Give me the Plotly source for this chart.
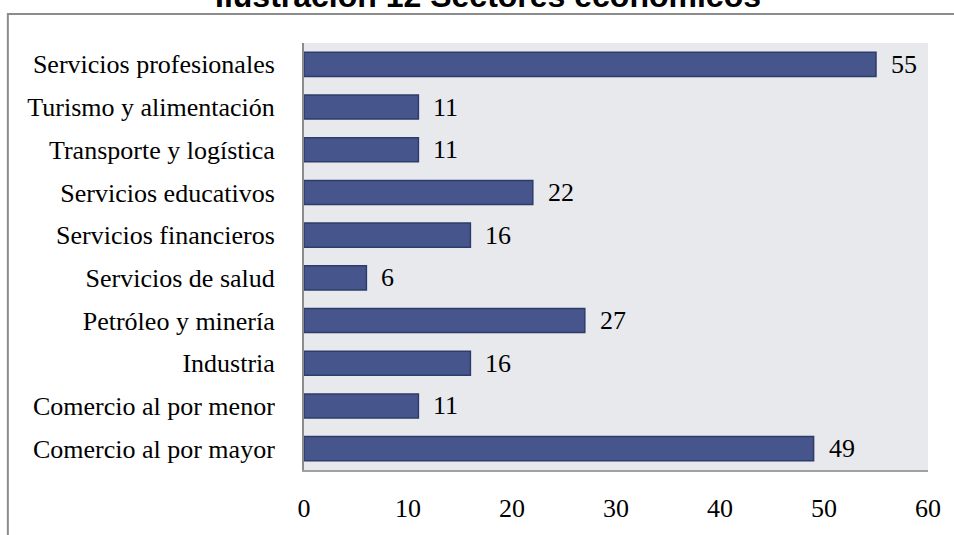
import plotly.graph_objects as go

categories = [
    "Comercio al por mayor",
    "Comercio al por menor",
    "Industria",
    "Petróleo y minería",
    "Servicios de salud",
    "Servicios financieros",
    "Servicios educativos",
    "Transporte y logística",
    "Turismo y alimentación",
    "Servicios profesionales",
]
values = [49, 11, 16, 27, 6, 16, 22, 11, 11, 55]
x_ticks = [0, 10, 20, 30, 40, 50, 60]
title_text = "Ilustración 12 Sectores económicos"

W, H = 954, 535
L, R, T, B = 304, 927.7, 42.7, 479
pw, ph = R - L, B - T

serif = "Liberation Serif"

fig = go.Figure()
fig.add_trace(go.Bar(
    x=values, y=categories, orientation="h",
    marker=dict(color="#46558B", line=dict(color="#2E3C6A", width=1.5)),
    width=0.565,
    hoverinfo="x+y",
))

for v, c in zip(values, categories):
    fig.add_annotation(x=v, y=c, xref="x", yref="y", text=str(v),
                       showarrow=False, xanchor="left", yanchor="middle",
                       xshift=13, font=dict(family=serif, size=26, color="black"))

# outer frame
fig.add_shape(type="rect", xref="paper", yref="paper",
              x0=(8 - L) / pw, x1=1.2, y0=-0.3, y1=1 + (T - 13) / ph,
              line=dict(color="#8C8C8C", width=2), fillcolor="rgba(0,0,0,0)",
              layer="below")

fig.update_layout(
    width=W, height=H,
    margin=dict(l=L, r=W - R, t=T, b=H - B, pad=0),
    paper_bgcolor="white",
    plot_bgcolor="#E8E9ED",
    showlegend=False,
    title=dict(text="<b>" + title_text + "</b>", xref="container", yref="container",
               x=488 / W, xanchor="center", y=1 - 7 / H, yanchor="bottom",
               font=dict(family="Liberation Sans", size=32, color="black")),
    xaxis=dict(range=[0, 60], tickvals=x_ticks, ticktext=[str(t) for t in x_ticks],
               showgrid=False, zeroline=False, showline=True, linecolor="#A0A0A0",
               linewidth=2, ticks="", ticklabelstandoff=14,
               tickfont=dict(family=serif, size=26, color="black"), fixedrange=True),
    yaxis=dict(categoryorder="array", categoryarray=categories,
               range=[-0.5, len(categories) - 0.5],
               showgrid=False, zeroline=False, showline=True, linecolor="#8C8C8C",
               linewidth=2, ticks="", ticklabelstandoff=22,
               tickfont=dict(family=serif, size=26, color="black"), fixedrange=True),
    bargap=0.43,
)

fig.write_html("out.html")
